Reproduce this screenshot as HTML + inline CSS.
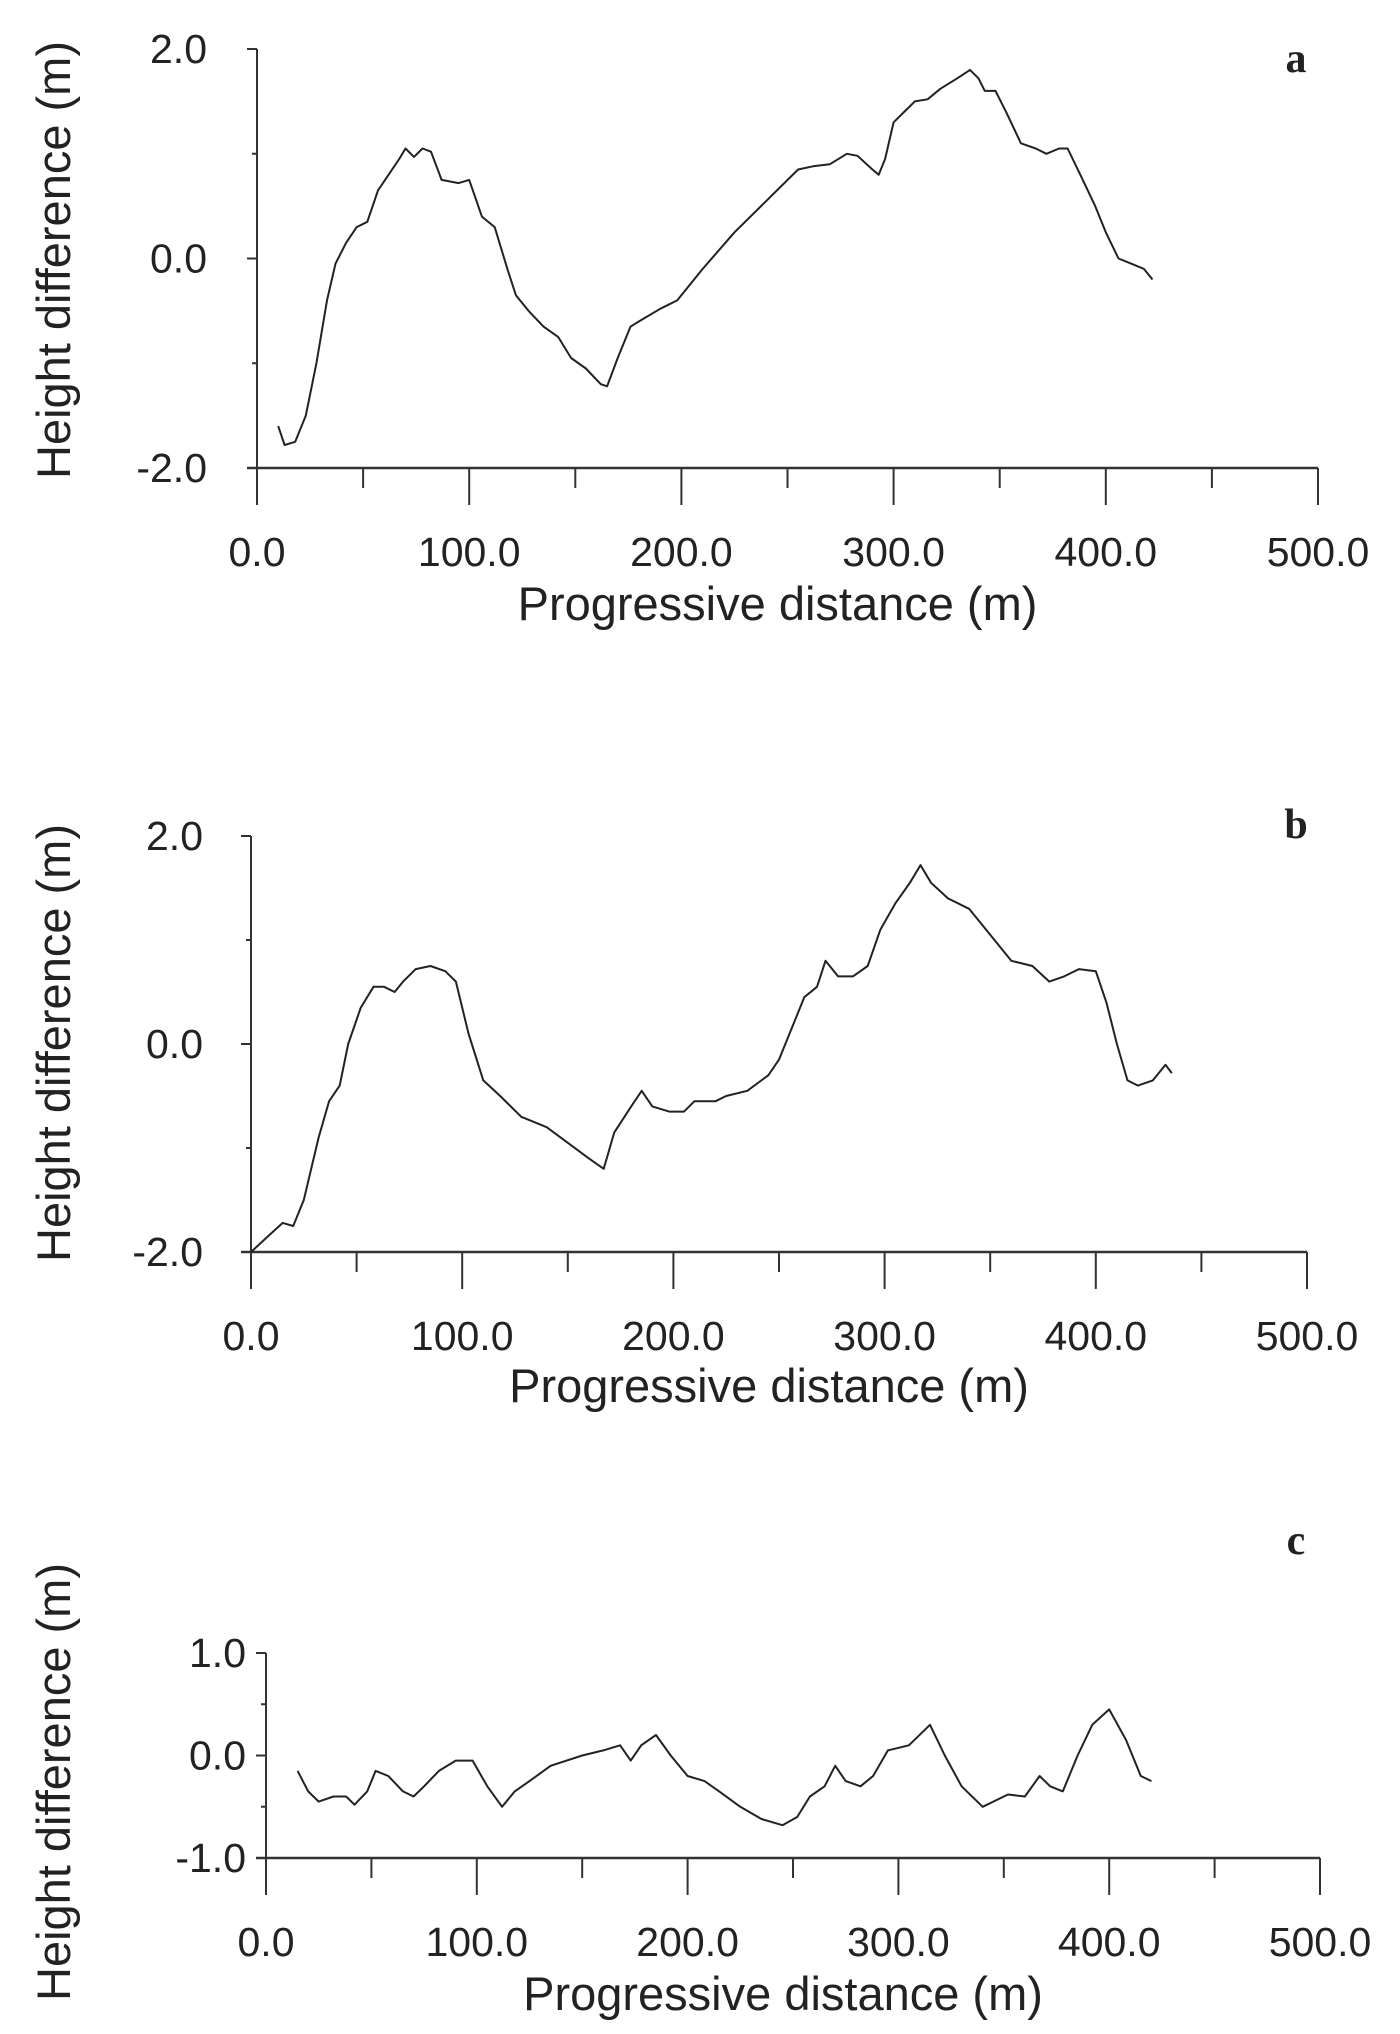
<!DOCTYPE html>
<html><head><meta charset="utf-8"><style>
html,body{margin:0;padding:0;background:#fff;}
svg{display:block;}
text{font-family:"Liberation Sans",sans-serif;fill:#222;}
</style></head><body>
<svg id="fig" width="1400" height="2034" viewBox="0 0 1400 2034" xmlns="http://www.w3.org/2000/svg"></svg>
<script>
const xTicks = [0, 100, 200, 300, 400, 500];
const xTickLabels = ["0.0", "100.0", "200.0", "300.0", "400.0", "500.0"];
const aX = [10,13,18,23,28,33,37,42,47,52,57,62,67,70,74,78,82,87,95,100,106,112,118,122,128,135,142,148,155,162,165,170,176,180,190,198,210,225,240,255,262,270,278,283,290,293,296,300,305,310,316,322,330,336,340,343,348,353,360,367,372,378,382,388,395,400,406,412,418,422];
const aY = [-1.6,-1.78,-1.75,-1.5,-1.0,-0.4,-0.05,0.15,0.3,0.35,0.65,0.8,0.95,1.05,0.97,1.05,1.02,0.75,0.72,0.75,0.4,0.3,-0.1,-0.35,-0.5,-0.65,-0.75,-0.95,-1.05,-1.2,-1.22,-0.95,-0.65,-0.6,-0.48,-0.4,-0.1,0.25,0.55,0.85,0.88,0.9,1.0,0.98,0.85,0.8,0.95,1.3,1.4,1.5,1.52,1.62,1.72,1.8,1.72,1.6,1.6,1.4,1.1,1.05,1.0,1.05,1.05,0.8,0.5,0.25,0.0,-0.05,-0.1,-0.2];
const bX = [0,8,15,20,25,32,37,42,46,52,58,63,68,72,78,85,92,97,103,110,118,128,140,150,160,167,172,180,185,190,198,205,210,220,225,235,245,250,258,262,268,272,278,285,292,298,305,312,317,322,330,340,350,360,370,378,385,392,400,405,410,415,420,427,433,436];
const bY = [-2.0,-1.85,-1.72,-1.75,-1.5,-0.9,-0.55,-0.4,0.0,0.35,0.55,0.55,0.5,0.6,0.72,0.75,0.7,0.6,0.1,-0.35,-0.5,-0.7,-0.8,-0.95,-1.1,-1.2,-0.85,-0.6,-0.45,-0.6,-0.65,-0.65,-0.55,-0.55,-0.5,-0.45,-0.3,-0.15,0.25,0.45,0.55,0.8,0.65,0.65,0.75,1.1,1.35,1.55,1.72,1.55,1.4,1.3,1.05,0.8,0.75,0.6,0.65,0.72,0.7,0.4,0.0,-0.35,-0.4,-0.35,-0.2,-0.28];
const cX = [15,20,25,32,38,42,48,52,58,65,70,75,82,90,98,105,112,118,125,135,150,160,168,173,178,185,192,200,208,215,225,235,245,252,258,265,270,275,282,288,295,305,315,322,330,340,345,352,360,367,372,378,385,392,400,408,415,420];
const cY = [-0.15,-0.35,-0.45,-0.4,-0.4,-0.48,-0.35,-0.15,-0.2,-0.35,-0.4,-0.3,-0.15,-0.05,-0.05,-0.3,-0.5,-0.35,-0.25,-0.1,0.0,0.05,0.1,-0.05,0.1,0.2,0.0,-0.2,-0.25,-0.35,-0.5,-0.62,-0.68,-0.6,-0.4,-0.3,-0.1,-0.25,-0.3,-0.2,0.05,0.1,0.3,0.0,-0.3,-0.5,-0.45,-0.38,-0.4,-0.2,-0.3,-0.35,0.0,0.3,0.45,0.15,-0.2,-0.25];
const aYTicks = [2,1,0,-1,-2], aYLabels = ["2.0",null,"0.0",null,"-2.0"];
const cYTicks = [1,0.5,0,-0.5,-1], cYLabels = ["1.0",null,"0.0",null,"-1.0"];

const NS = "http://www.w3.org/2000/svg";
const svg = document.getElementById('fig');
function mk(tag, attrs, parent, txt){
  const e = document.createElementNS(NS, tag);
  for (const k in attrs) e.setAttribute(k, attrs[k]);
  if (txt !== undefined) e.textContent = txt;
  parent.appendChild(e);
  return e;
}
function panel(id, letter, x0, x500, yTop, yBot, yMax, yMin, yTicks, yLabels, xs, ys, letterY, titleY, ylabCY, yLabOff){
  const g = mk('g', {}, svg);
  
  
  const sx = v => x0 + (v / 500) * (x500 - x0);
  const sy = v => yTop + (yMax - v) / (yMax - yMin) * (yBot - yTop);
  const yAxis = mk('line', {x1:x0, y1:yTop, x2:x0, y2:yBot+37, stroke:'#333', 'stroke-width':2}, g);
  
  
  const xAxis = mk('line', {x1:x0-10, y1:yBot, x2:x500, y2:yBot, stroke:'#333', 'stroke-width':2.5}, g);
  
  
  for (let v = 0; v <= 500; v += 50) {
    const major = v % 100 === 0;
    const t = mk('line', {x1:sx(v), y1:yBot, x2:sx(v), y2:yBot + (major ? 37 : 20), stroke:'#333', 'stroke-width':2}, g);
    
    
  }
  xTicks.forEach((v, i) => {
    const t = mk('text', {x:sx(v), y:yBot + 98, 'font-size':41, 'text-anchor':'middle'}, g, xTickLabels[i]);
    
    
  });
  yTicks.forEach((v, i) => {
    const major = yLabels[i] !== null;
    const t = mk('line', {x1: major ? x0-10 : x0, y1:sy(v), x2: major ? x0 : x0-5, y2:sy(v), stroke:'#333', 'stroke-width':2}, g);
    
    
    if (major) {
      const l = mk('text', {x:x0-yLabOff, y:sy(v)+14, 'font-size':41, 'text-anchor':'end'}, g, yLabels[i]);
      
      
    }
  });
  const tt = mk('text', {x:(x0+x500)/2 - 10, y:titleY, 'font-size':47, 'text-anchor':'middle'}, g, 'Progressive distance (m)');
  
  
  const yt = mk('text', {x:0, y:0, 'font-size':47, 'text-anchor':'middle', transform:`translate(70,${ylabCY}) rotate(-90)`}, g, 'Height difference (m)');
  
  
  const lt = mk('text', {x:1296, y:letterY, 'font-size':42, 'font-weight':'bold', 'text-anchor':'middle', style:'font-family:"Liberation Serif",serif'}, g, letter);
  
  
  const d = xs.map((v, i) => (i ? 'L' : 'M') + sx(v).toFixed(1) + ',' + sy(ys[i]).toFixed(1)).join(' ');
  const p = mk('path', {d:d, fill:'none', stroke:'#222', 'stroke-width':2, 'stroke-linejoin':'round'}, g);
  
  
}
panel('a', 'a', 257, 1318, 49, 468, 2, -2, aYTicks, aYLabels, aX, aY, 72, 620, 260, 50);
panel('b', 'b', 251, 1307, 836, 1252, 2, -2, aYTicks, aYLabels, bX, bY, 838, 1402, 1043, 48);
panel('c', 'c', 266, 1320, 1653, 1858, 1, -1, cYTicks, cYLabels, cX, cY, 1554, 2010, 1782, 20);
</script>
</body></html>
